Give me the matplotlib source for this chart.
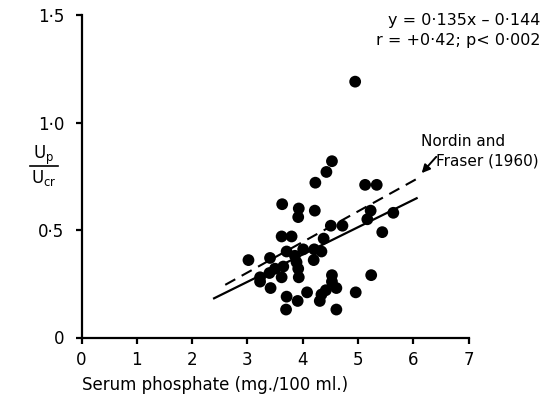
import matplotlib
matplotlib.use("Agg")
import matplotlib.pyplot as plt
from matplotlib.lines import Line2D

# Data
serum_p = [4.95, 4.53, 4.43, 4.23, 5.13, 5.34, 3.63, 3.93, 3.92, 4.22,
           5.23, 5.17, 5.64, 4.51, 4.72, 5.44, 4.38, 3.62, 3.80, 3.02,
           3.41, 3.71, 4.01, 4.21, 4.34, 4.20, 3.86, 3.89, 3.92, 3.65,
           3.50, 3.40, 3.23, 3.23, 3.62, 3.93, 3.42, 3.71, 3.91, 4.08,
           3.70, 4.31, 4.34, 4.42, 4.53, 4.53, 4.61, 4.61, 4.96, 5.24]
up_ucr = [1.19, 0.82, 0.77, 0.72, 0.71, 0.71, 0.62, 0.60, 0.56, 0.59,
          0.59, 0.55, 0.58, 0.52, 0.52, 0.49, 0.46, 0.47, 0.47, 0.36,
          0.37, 0.40, 0.41, 0.41, 0.40, 0.36, 0.38, 0.35, 0.32, 0.33,
          0.32, 0.30, 0.28, 0.26, 0.28, 0.28, 0.23, 0.19, 0.17, 0.21,
          0.13, 0.17, 0.20, 0.22, 0.29, 0.26, 0.23, 0.13, 0.21, 0.29]

regr_x = [2.38, 6.08]
regr_y = [0.18, 0.65]
nordin_x = [2.60, 6.08]
nordin_y = [0.245, 0.74]

x_ticks = [0, 1, 2, 3, 4, 5, 6, 7]
x_labels = ["0", "1", "2", "3", "4", "5", "6", "7"]
y_ticks = [0, 0.5, 1.0, 1.5]
y_labels = ["0", "0·5", "1·0", "1·5"]

W, H = 545, 405
fig = plt.figure(figsize=(W / 100, H / 100), dpi=100)
ax = fig.add_axes([81.5 / W, 1 - 337.5 / H, (468.5 - 81.5) / W, (337.5 - 15) / H])

ax.scatter(serum_p, up_ucr, s=72, color="black", edgecolors="none", zorder=3)
ax.plot(regr_x, regr_y, color="black", lw=1.6, solid_capstyle="butt")
ax.plot(nordin_x, nordin_y, color="black", lw=1.5, dashes=(5.5, 3.5))

ax.set_xlim(0, 7)
ax.set_ylim(0, 1.5)
ax.set_xticks(x_ticks)
ax.set_xticklabels(x_labels)
ax.set_yticks(y_ticks)
ax.set_yticklabels(y_labels)
for s in ("top", "right"):
    ax.spines[s].set_visible(False)
for s in ("left", "bottom"):
    ax.spines[s].set_linewidth(1.6)
ax.tick_params(axis="both", direction="out", length=4.5, width=1.6, labelsize=12)
ax.tick_params(axis="y", pad=8)
ax.tick_params(axis="x", pad=5)

fig.text(82 / W, 1 - 385 / H, "Serum phosphate (mg./100 ml.)", fontsize=12,
         ha="left", va="center")

# y label as fraction
fig.text(44 / W, 1 - 155 / H, "U$_{\\mathregular{p}}$", fontsize=12, ha="center", va="center")
fig.text(44 / W, 1 - 178 / H, "U$_{\\mathregular{cr}}$", fontsize=12, ha="center", va="center")
fig.add_artist(Line2D([30 / W, 58 / W], [1 - 166 / H, 1 - 166 / H], color="black", lw=1.2,
                      transform=fig.transFigure))

fig.text(540 / W, 1 - 20 / H, "y = 0·135x – 0·144", fontsize=11.5, ha="right", va="center")
fig.text(540 / W, 1 - 41 / H, "r = +0·42; p< 0·002", fontsize=11.5, ha="right", va="center")

ax.annotate("", xy=(6.12, 0.755), xytext=(6.45, 0.85),
            arrowprops=dict(arrowstyle="-|>", color="black", lw=1.4, mutation_scale=12))
fig.text(421 / W, 1 - 141 / H, "Nordin and", fontsize=11, ha="left", va="center")
fig.text(436 / W, 1 - 161 / H, "Fraser (1960)", fontsize=11, ha="left", va="center")

fig.savefig("out.png", dpi=100)
